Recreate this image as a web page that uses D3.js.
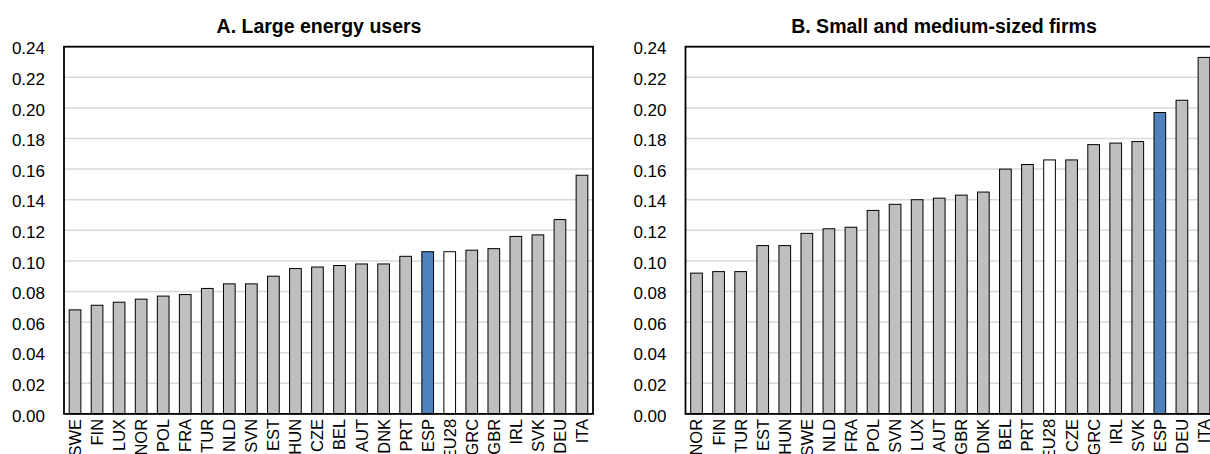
<!DOCTYPE html>
<html>
<head>
<meta charset="utf-8">
<script src="https://cdn.jsdelivr.net/npm/d3@7"></script>
<style>
  body { margin: 0; background: #fff; }
  svg { display: block; font-family: "Liberation Sans", Arial, sans-serif; }
</style>
</head>
<body>
<svg id="chart" width="1210" height="454"></svg>
<script>
// ---- Data ----
const titleA = "A. Large energy users";
const titleB = "B. Small and medium-sized firms";
const categoriesA = ["SWE","FIN","LUX","NOR","POL","FRA","TUR","NLD","SVN","EST","HUN","CZE","BEL","AUT","DNK","PRT","ESP","EU28","GRC","GBR","IRL","SVK","DEU","ITA"];
const valuesA = [0.068,0.071,0.073,0.075,0.077,0.078,0.082,0.085,0.085,0.090,0.095,0.096,0.097,0.098,0.098,0.103,0.106,0.106,0.107,0.108,0.116,0.117,0.127,0.156];
const categoriesB = ["NOR","FIN","TUR","EST","HUN","SWE","NLD","FRA","POL","SVN","LUX","AUT","GBR","DNK","BEL","PRT","EU28","CZE","GRC","IRL","SVK","ESP","DEU","ITA"];
const valuesB = [0.092,0.093,0.093,0.110,0.110,0.118,0.121,0.122,0.133,0.137,0.140,0.141,0.143,0.145,0.160,0.163,0.166,0.166,0.176,0.177,0.178,0.197,0.205,0.233];
const yTicks = [0,0.02,0.04,0.06,0.08,0.10,0.12,0.14,0.16,0.18,0.20,0.22,0.24];
const highlight = "ESP";
const reference = "EU28";

// ---- Drawing ----
const svg = d3.select("#chart");
const plotTop = 46.7, plotBottom = 413.9;

function panel(cats, vals, left, right, title, titleX) {
  const g = svg.append("g");
  const x = d3.scaleBand().domain(cats).range([left, right]).paddingInner(0.47).paddingOuter(0.235);
  const y = d3.scaleLinear().domain([0, 0.24]).range([plotBottom, plotTop]);

  // gridlines
  g.append("g").selectAll("line").data(yTicks.filter(t => t > 0 && t < 0.24)).join("line")
    .attr("x1", left).attr("x2", right)
    .attr("y1", d => y(d)).attr("y2", d => y(d))
    .attr("stroke", "#d9d9d9").attr("stroke-width", 1.5);

  // bars
  g.append("g").selectAll("rect").data(cats.map((c, i) => ({c, v: vals[i]}))).join("rect")
    .attr("x", d => x(d.c)).attr("width", x.bandwidth())
    .attr("y", d => y(d.v)).attr("height", d => y(0) - y(d.v))
    .attr("fill", d => d.c === highlight ? "#4f81bd" : d.c === reference ? "#ffffff" : "#bfbfbf")
    .attr("stroke", "#000").attr("stroke-width", 1);

  // frame
  g.append("rect").attr("x", left).attr("y", plotTop).attr("width", right - left).attr("height", plotBottom - plotTop)
    .attr("fill", "none").attr("stroke", "#000").attr("stroke-width", 1.8);

  // y axis
  const ya = g.append("g").attr("transform", `translate(${left - 1},0)`)
    .call(d3.axisLeft(y).tickValues(yTicks).tickFormat(d3.format(".2f")).tickSize(0).tickPadding(18));
  ya.select(".domain").remove();
  ya.selectAll("text").attr("font-size", 17).attr("fill", "#000").attr("dy", "0.42em")
    .attr("font-family", "Liberation Sans, Arial, sans-serif");

  // x axis labels
  const xa = g.append("g").attr("transform", `translate(0,${plotBottom})`)
    .call(d3.axisBottom(x).tickSize(0).tickPadding(0));
  xa.select(".domain").remove();
  xa.selectAll("text")
    .attr("font-size", 16.5).attr("fill", "#000")
    .attr("font-family", "Liberation Sans, Arial, sans-serif")
    .attr("transform", "rotate(-90)")
    .attr("text-anchor", "end")
    .attr("x", -5).attr("y", 0).attr("dy", "0.36em");

  // title
  g.append("text").attr("x", titleX).attr("y", 33).attr("text-anchor", "middle")
    .attr("font-size", 19.5).attr("font-weight", "bold").attr("fill", "#000").text(title);
}

panel(categoriesA, valuesA, 64, 593, titleA, 319);
panel(categoriesB, valuesB, 685.5, 1215, titleB, 944);
</script>
</body>
</html>
